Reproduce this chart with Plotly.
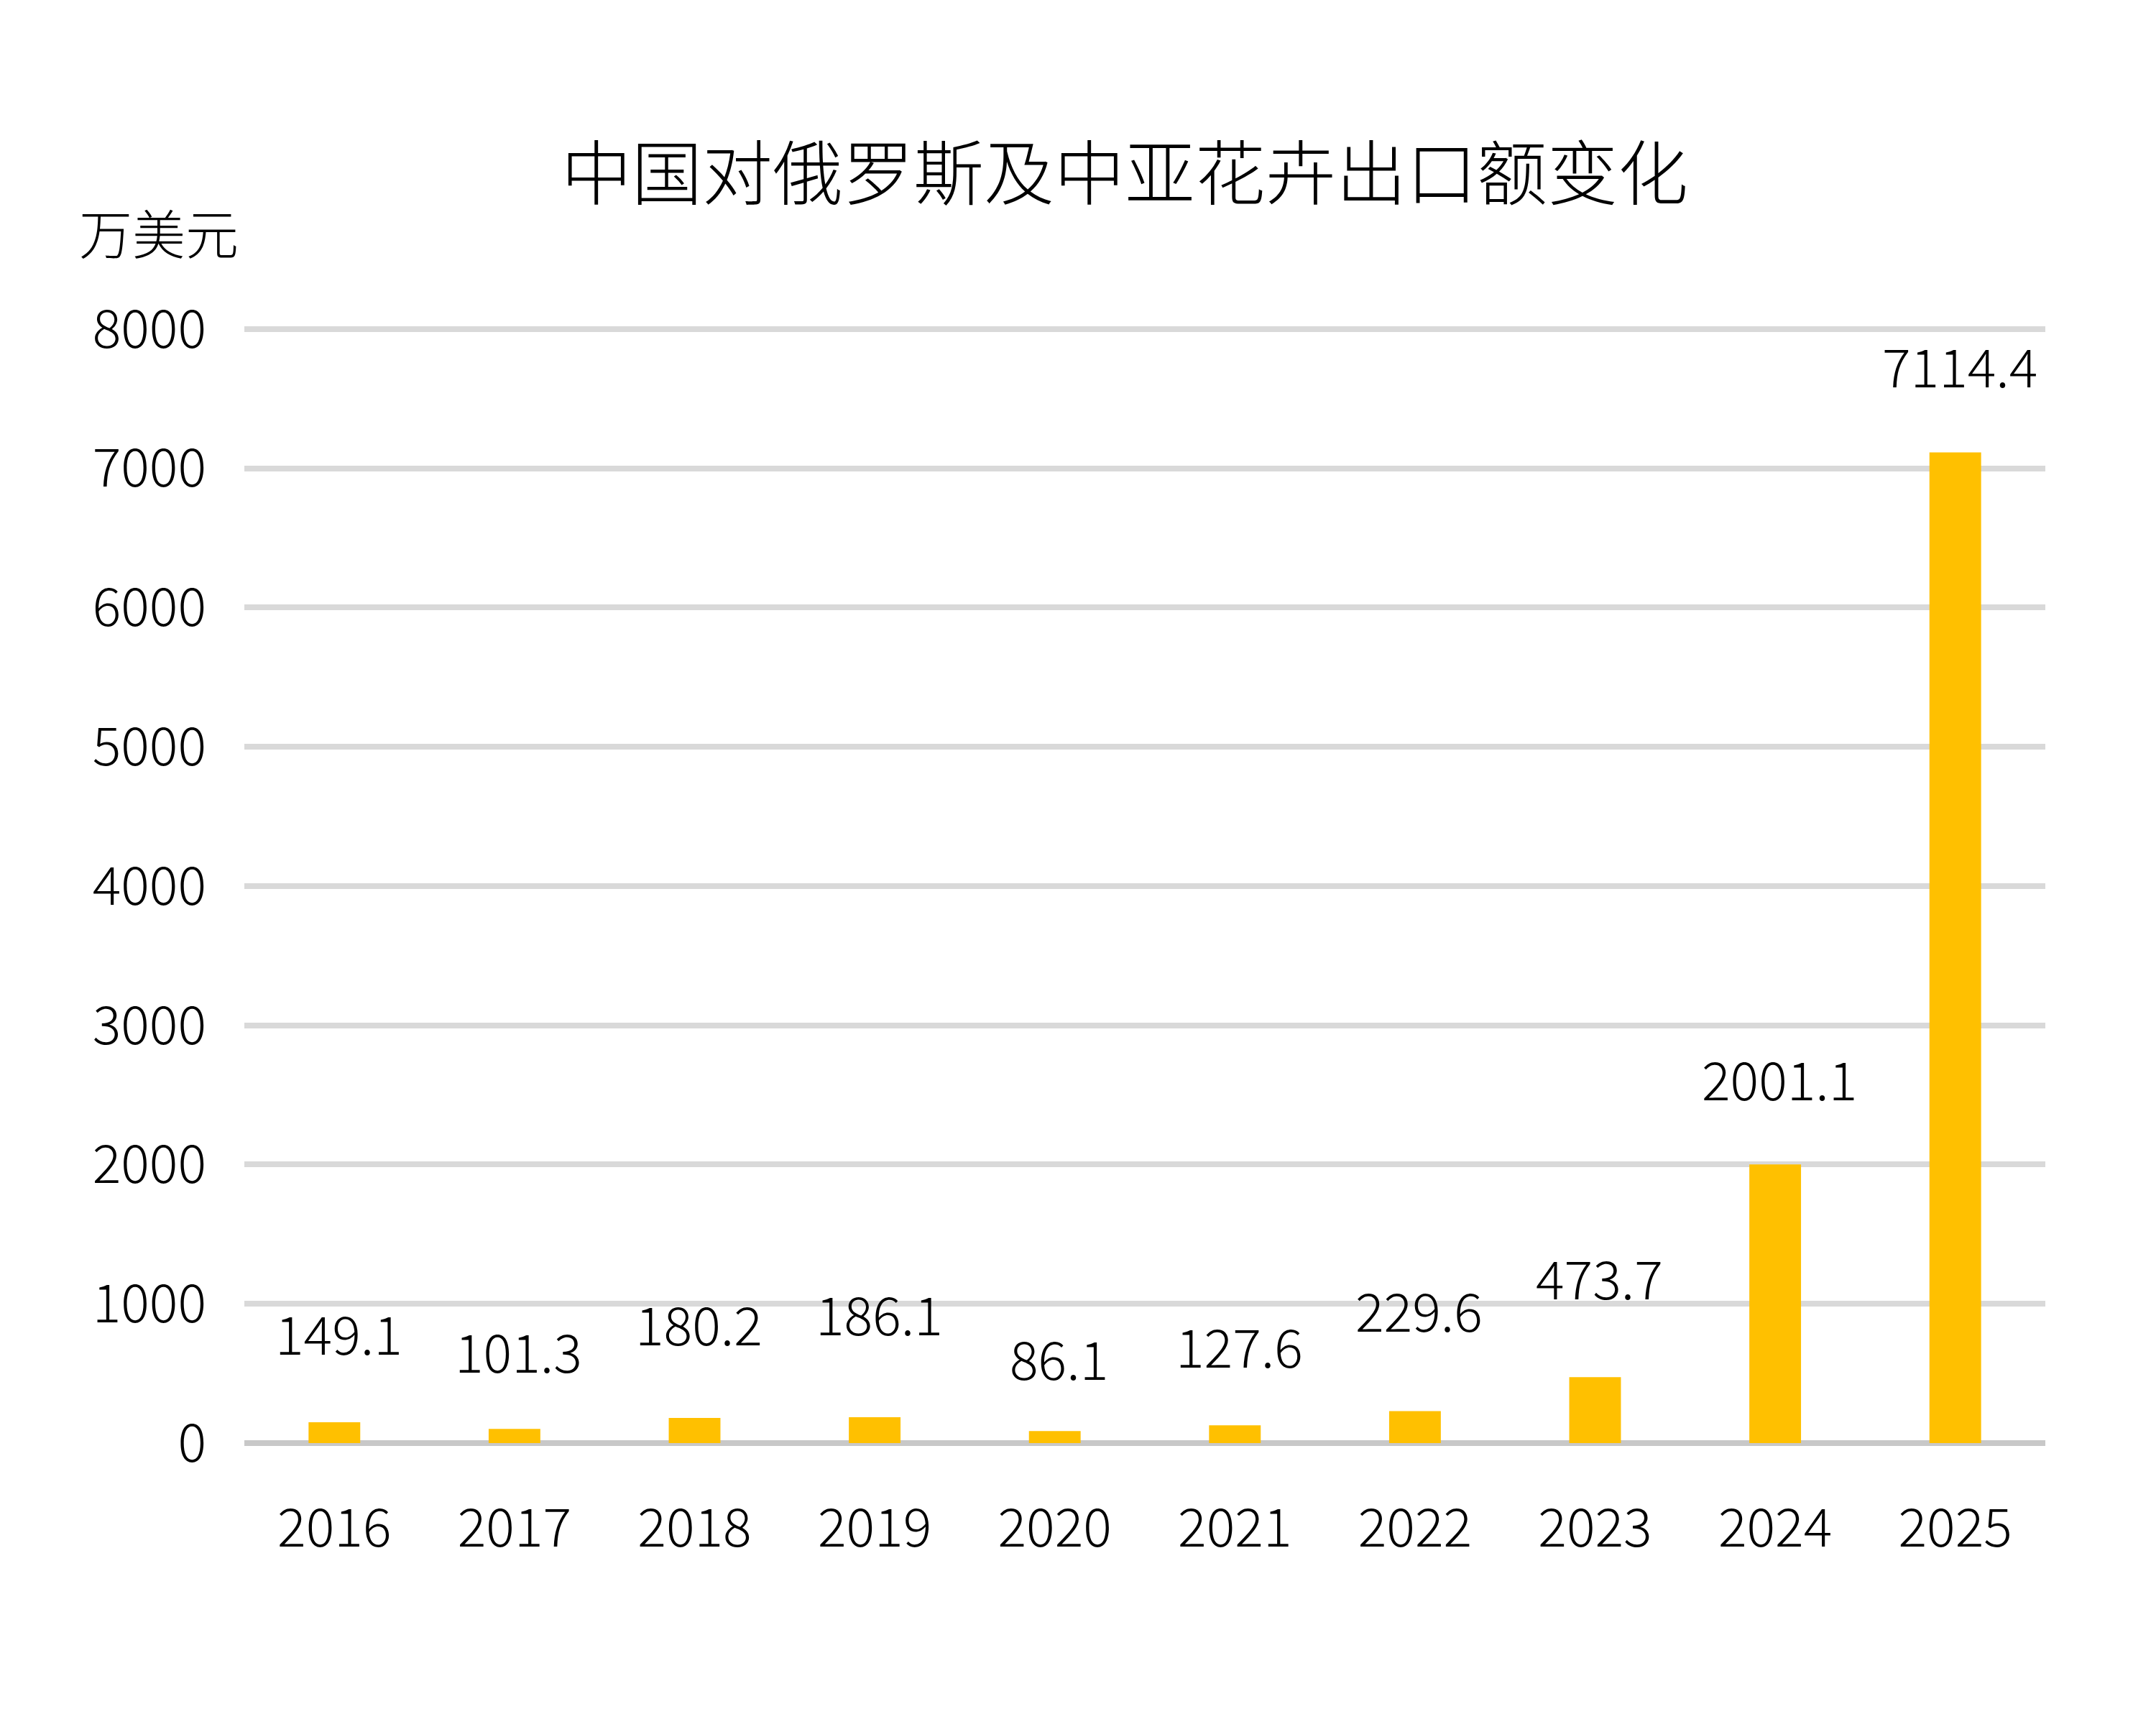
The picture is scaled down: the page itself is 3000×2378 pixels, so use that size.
import plotly.graph_objects as go

# ---- data ----
years = ["2016", "2017", "2018", "2019", "2020", "2021", "2022", "2023", "2024", "2025"]
values = [149.1, 101.3, 180.2, 186.1, 86.1, 127.6, 229.6, 473.7, 2001.1, 7114.4]
y_ticks = [0, 1000, 2000, 3000, 4000, 5000, 6000, 7000, 8000]
title_text = "中国对俄罗斯及中亚花卉出口额变化"
unit_text = "万美元"

# ---- styling (label offsets above bar tops, in pixels) ----
label_shift = [127, 111, 134, 146, 104, 113, 143, 141, 122, 123]

FONT = "Noto Sans CJK SC, Noto Sans, sans-serif"
BAR_COLOR = "#FFC000"

fig = go.Figure()
fig.add_trace(go.Bar(
    x=years, y=values,
    marker=dict(color=BAR_COLOR, line=dict(width=0)),
    width=0.287,
    hoverinfo="x+y",
))

annotations = []
for i, (v, s) in enumerate(zip(values, label_shift)):
    annotations.append(dict(
        x=i, y=v, xref="x", yref="y",
        text=f"{v:.1f}", showarrow=False,
        yshift=s, xshift=6, yanchor="middle", xanchor="center",
        font=dict(family=FONT, size=74, color="#000000", weight=300),
    ))

W, H = 3000, 2378
L, R, T, B = 340, 154, 452, 370
pw = W - L - R
ph = H - T - B

annotations.append(dict(
    x=(108 - L) / pw, y=(H - B - 321) / ph, xref="paper", yref="paper",
    text=unit_text, showarrow=False,
    xanchor="left", yanchor="middle",
    font=dict(family=FONT, size=74, color="#000000", weight=300),
))

fig.update_layout(
    width=W, height=H,
    margin=dict(l=L, r=R, t=T, b=B, pad=0),
    paper_bgcolor="white", plot_bgcolor="white",
    showlegend=False,
    title=dict(
        text=title_text, x=1565 / W, xanchor="center",
        y=1 - 243 / H, yanchor="middle", yref="container",
        font=dict(family=FONT, size=98, color="#000000", weight=300),
    ),
    annotations=annotations,
)

fig.update_xaxes(
    type="category",
    range=[-0.5, len(years) - 0.5],
    showgrid=False, showline=False, zeroline=False,
    ticks="", ticklabelstandoff=69,
    tickfont=dict(family=FONT, size=74, color="#000000", weight=300),
)
fig.update_yaxes(
    range=[0, 8030],
    tickvals=y_ticks, ticktext=[str(t) for t in y_ticks],
    showgrid=True, gridcolor="#d9d9d9", gridwidth=8,
    zeroline=True, zerolinecolor="#c8c8c8", zerolinewidth=8,
    showline=False, ticks="", ticklabelstandoff=52,
    tickfont=dict(family=FONT, size=74, color="#000000", weight=300),
)

fig.write_html("out.html")
